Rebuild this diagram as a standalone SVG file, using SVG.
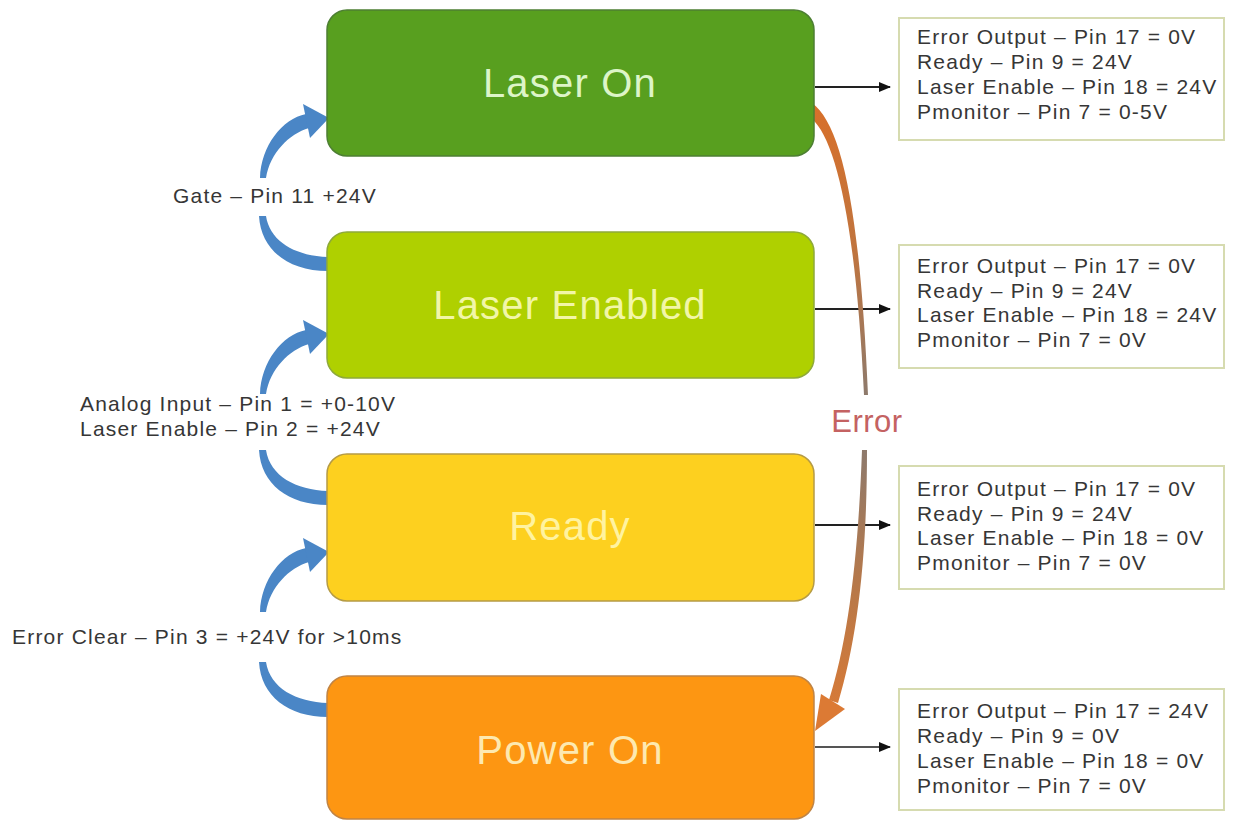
<svg xmlns="http://www.w3.org/2000/svg" width="1233" height="821" viewBox="0 0 1233 821">
<defs>
<style>
.node rect{stroke-width:1.5}
.nt{font-family:"Liberation Sans",Arial,sans-serif;font-size:40px;letter-spacing:1.2px;text-anchor:middle}
.info rect{fill:#ffffff;stroke:#d6dbb0;stroke-width:2}
.it{font-family:"Liberation Sans",Arial,sans-serif;font-size:21px;letter-spacing:1.2px;fill:#363636}
.lbl{font-family:"Liberation Sans",Arial,sans-serif;font-size:21px;letter-spacing:1.2px;fill:#363636}
.hl{stroke:#222;stroke-width:1.8;fill:none;marker-end:url(#ah)}
.blue{fill:#4a86c6}
</style>
<marker id="ah" viewBox="0 0 12 10" refX="11" refY="5" markerWidth="12" markerHeight="10" markerUnits="userSpaceOnUse" orient="auto">
<path d="M0,0 L12,5 L0,10 Z" fill="#111"/>
</marker>
<linearGradient id="errTop" x1="0" y1="103" x2="0" y2="395" gradientUnits="userSpaceOnUse">
<stop offset="0" stop-color="#d8702a"/>
<stop offset="0.5" stop-color="#c0743e"/>
<stop offset="1" stop-color="#8e7a6c"/>
</linearGradient>
<linearGradient id="errBot" x1="0" y1="450" x2="0" y2="731" gradientUnits="userSpaceOnUse">
<stop offset="0" stop-color="#8e7a6c"/>
<stop offset="0.5" stop-color="#b87848"/>
<stop offset="1" stop-color="#dc7a34"/>
</linearGradient>
<path id="upArc" d="M260,178 C261,146 282,119 306,114 L309,128 C289,134 270,153 266,178 Z"/>
<polygon id="upHead" points="303,104 329,118 310,138"/>
<path id="lowArc" d="M259,216 C261,250 288,271 328,271 L328,257 C296,256 270,242 266,216 Z"/>
</defs>
<rect width="1233" height="821" fill="#ffffff"/>

<g id="connectors">
<line class="hl" x1="815" y1="87" x2="890" y2="87"/>
<line class="hl" x1="815" y1="309" x2="890" y2="309"/>
<line class="hl" x1="815" y1="525" x2="890" y2="525"/>
<line class="hl" x1="815" y1="747" x2="890" y2="747" style="stroke:#555"/>

<g class="blue">
<use href="#upArc"/><use href="#upHead"/>
<use href="#lowArc"/>
<use href="#upArc" transform="translate(0,216)"/><use href="#upHead" transform="translate(0,216)"/>
<use href="#lowArc" transform="translate(0,234)"/>
<use href="#upArc" transform="translate(0,434)"/><use href="#upHead" transform="translate(0,434)"/>
<use href="#lowArc" transform="translate(0,446)"/>
</g>

<path d="M812,103 C842,125 860,210 868,395 L864,395 C856,225 836,140 812,119 Z" fill="url(#errTop)"/>
<path d="M867,450 C867,560 857,640 838,703 L829,700 C848,640 858,560 862,450 Z" fill="url(#errBot)"/>
<polygon points="815,731 821,694 845,709" fill="#dc7a34"/>
</g>

<text x="867" y="432" font-family="Liberation Sans,Arial,sans-serif" font-size="31" letter-spacing="0.5" fill="#c46262" text-anchor="middle">Error</text>

<g id="labels">
<text class="lbl" x="173" y="203">Gate – Pin 11 +24V</text>
<text class="lbl" x="80" y="411">Analog Input – Pin 1 = +0-10V</text>
<text class="lbl" x="80" y="436">Laser Enable – Pin 2 = +24V</text>
<text class="lbl" x="12" y="644">Error Clear – Pin 3 = +24V for &gt;10ms</text>
</g>

<g id="node-laser-on" class="node">
<rect x="327" y="10" width="487" height="146" rx="20" fill="#589f1f" stroke="#4d7f33"/>
<text class="nt" x="570" y="97" fill="#ddf5c8">Laser On</text>
</g>
<g id="node-laser-enabled" class="node">
<rect x="327" y="232" width="487" height="146" rx="20" fill="#afd000" stroke="#8ea93a"/>
<text class="nt" x="570" y="319" fill="#f2f6a8">Laser Enabled</text>
</g>
<g id="node-ready" class="node">
<rect x="327" y="454" width="487" height="147" rx="20" fill="#fdd01f" stroke="#b59b45"/>
<text class="nt" x="570" y="540" fill="#fff3a0">Ready</text>
</g>
<g id="node-power-on" class="node">
<rect x="327" y="676" width="487" height="143" rx="20" fill="#fd9612" stroke="#c08445"/>
<text class="nt" x="570" y="764" fill="#fde9b0">Power On</text>
</g>

<g id="info-laser-on" class="info">
<rect x="899" y="18" width="325" height="122"/>
<text class="it" x="917" y="44">Error Output – Pin 17 = 0V</text>
<text class="it" x="917" y="69">Ready – Pin 9 = 24V</text>
<text class="it" x="917" y="94">Laser Enable – Pin 18 = 24V</text>
<text class="it" x="917" y="119">Pmonitor – Pin 7 = 0-5V</text>
</g>
<g id="info-laser-enabled" class="info">
<rect x="899" y="245" width="325" height="123"/>
<text class="it" x="917" y="273">Error Output – Pin 17 = 0V</text>
<text class="it" x="917" y="298">Ready – Pin 9 = 24V</text>
<text class="it" x="917" y="322">Laser Enable – Pin 18 = 24V</text>
<text class="it" x="917" y="347">Pmonitor – Pin 7 = 0V</text>
</g>
<g id="info-ready" class="info">
<rect x="899" y="466" width="325" height="123"/>
<text class="it" x="917" y="496">Error Output – Pin 17 = 0V</text>
<text class="it" x="917" y="521">Ready – Pin 9 = 24V</text>
<text class="it" x="917" y="545">Laser Enable – Pin 18 = 0V</text>
<text class="it" x="917" y="570">Pmonitor – Pin 7 = 0V</text>
</g>
<g id="info-power-on" class="info">
<rect x="899" y="689" width="325" height="121"/>
<text class="it" x="917" y="718">Error Output – Pin 17 = 24V</text>
<text class="it" x="917" y="743">Ready – Pin 9 = 0V</text>
<text class="it" x="917" y="768">Laser Enable – Pin 18 = 0V</text>
<text class="it" x="917" y="793">Pmonitor – Pin 7 = 0V</text>
</g>
</svg>
